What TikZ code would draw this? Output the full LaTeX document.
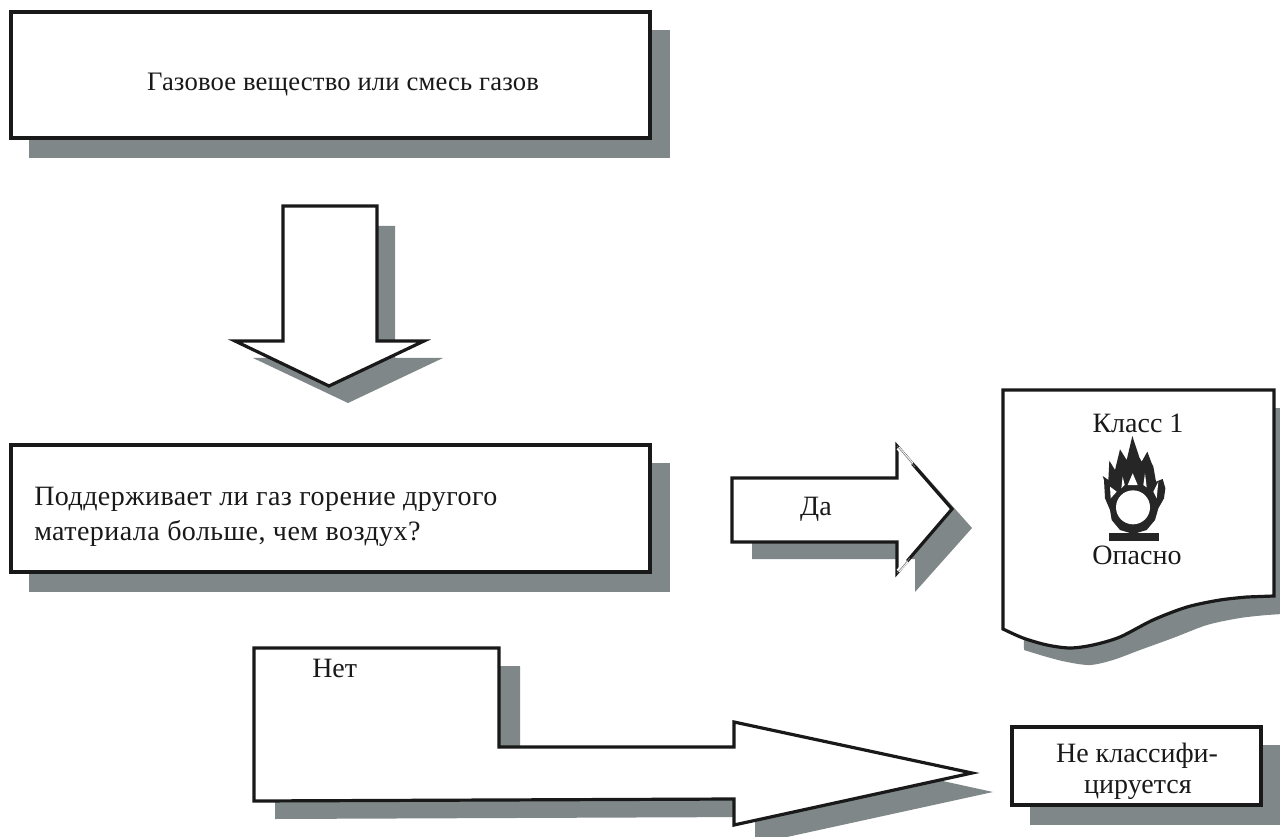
\documentclass[tikz,border=0pt]{standalone}
\usepackage{fontspec}
\setmainfont{Liberation Serif}
\usepackage{xcolor}
\definecolor{shadowgray}{HTML}{7F8788}
\tikzset{
    outline/.style={line width=2.4pt, black!90, fill=white, line join=miter},
    shade box/.style={fill=shadowgray},
    label/.style={inner sep=0pt, font=\fontsize{21pt}{25pt}\selectfont\addfontfeature{LetterSpace=#1}, text=black!90},
    label/.default=0,
}

\begin{document}
\begin{tikzpicture}[x=0.75pt, y=-0.75pt]
    \useasboundingbox (0,0) rectangle (1280,837);
    %top box
    \fill[shade box] (29,30) rectangle (670,158);
    \draw[outline] (11,12) rectangle (650,138);
    \node[label, anchor=base] (gas) at (343,91) {\fontsize{20pt}{24pt}\selectfont\addfontfeature{LetterSpace=0.6}Газовое вещество или смесь газов};
    %down arrow
    \fill[shade box] (303,226)
                        -- (395,226)
                        -- (395,358)
                        -- (443,358)
                        -- (348,403)
                        -- (253,358)
                        -- (303,358)
                        -- cycle;
    \draw[outline] (283,206)
                        -- (377,206)
                        -- (377,341)
                        -- (424,341)
                        -- (329,386)
                        -- (235,341)
                        -- (283,341)
                        -- cycle;
    %question box
    \fill[shade box] (29,463) rectangle (670,592);
    \draw[outline] (11,445) rectangle (650,572);
    \node[label=1.6, anchor=base west] (question) at (34,505) {Поддерживает ли газ горение другого};
    \node[label=1.6, anchor=base west] (question2) at (34,540) {материала больше, чем воздух?};
    %yes arrow
    \fill[shade box] (752,497)
                        -- (916,497)
                        -- (916,465)
                        -- (972,528)
                        -- (915,592)
                        -- (915,559)
                        -- (752,559)
                        -- cycle;
    \draw[outline] (897,478)
                        -- (732,478)
                        -- (732,542)
                        -- (897,542)
                        -- (897,573)
                        -- (952,509)
                        -- (897,446)
                        -- cycle;
    \draw[white, line width=2.8pt] (898,448) -- (912,464);
    \draw[gray, line width=0.5pt] (897,446) -- (915,467);
    \draw[white, line width=2.8pt] (898,571) -- (907,561);
    \draw[gray, line width=0.5pt] (897,573) -- (910,558);
    \node[label, anchor=base] (yes) at (816,515) {Да};
    %document
    \fill[shade box] (1022,408) -- (1282,408) -- (1282,614)
                        -- plot[smooth] coordinates {(1267,615) (1240,618) (1207,625) (1173,638) (1140,650) (1113,660) (1090,665) (1067,662) (1047,657) (1024,650)}
                        -- cycle;
    \draw[outline] (1003,390)
                        -- (1274,390)
                        -- (1274,596)
                        -- plot[smooth] coordinates {(1247,597) (1220,600) (1187,607) (1153,620) (1120,637) (1093,645) (1070,648) (1047,645) (1023,638) (1003,629)}
                        -- cycle;
    \node[label, anchor=base] (class) at (1138,432) {Класс 1};
    \node[label, anchor=base] (danger) at (1137,564) {Опасно};
    %flame
    \begin{scope}[shift={(1090,430)}, scale=1/3]
        \fill[black!85] (127,18)
                        -- (148,82)
                        -- (155,95)
                        -- (172,65)
                        -- (185,100)
                        -- (190,110)
                        -- (198,155)
                        -- (218,147)
                        -- (226,175)
                        -- (222,205)
                        -- (205,235)
                        -- (195,270)
                        -- (170,300)
                        -- (130,312)
                        -- (90,300)
                        -- (65,270)
                        -- (60,240)
                        -- (45,205)
                        -- (42,150)
                        -- (38,138)
                        -- (55,150)
                        -- (58,92)
                        -- (75,120)
                        -- (90,58)
                        -- (110,90)
                        -- cycle;
        \fill[white] (128,130) -- (113,165) -- (143,165) -- cycle;
        \fill[white] (60,170) -- (80,185) -- (62,205) -- cycle;
        \fill[white] (205,155) -- (190,185) -- (200,205) -- cycle;
        \fill[white] (98,140) -- (94,175) -- (104,165) -- cycle;
        \fill[white] (165,130) -- (160,165) -- (170,172) -- cycle;
        \fill[white] (129,232) circle (51);
        \fill[black!85] (57,310) rectangle (207,332);
    \end{scope}
    %no arrow
    \fill[shade box] (275,666)
                        -- (520,666)
                        -- (520,765)
                        -- (755,765)
                        -- (755,740)
                        -- (993,792)
                        -- (787,837)
                        -- (755,837)
                        -- (755,817)
                        -- (275,819)
                        -- cycle;
    \draw[outline] (254,648)
                        -- (499,648)
                        -- (499,747)
                        -- (734,747)
                        -- (734,722)
                        -- (972,773)
                        -- (734,825)
                        -- (734,799)
                        -- (254,801)
                        -- cycle;
    \node[label, anchor=base west] (no) at (312,677) {Нет};
    %last box
    \fill[shade box] (1030,745) rectangle (1282,825);
    \draw[outline] (1012,727) rectangle (1261,805);
    \node[label, anchor=base] (none) at (1137,762) {Не классифи-};
    \node[label, anchor=base] (none2) at (1138,793) {цируется};
\end{tikzpicture}
\end{document}
